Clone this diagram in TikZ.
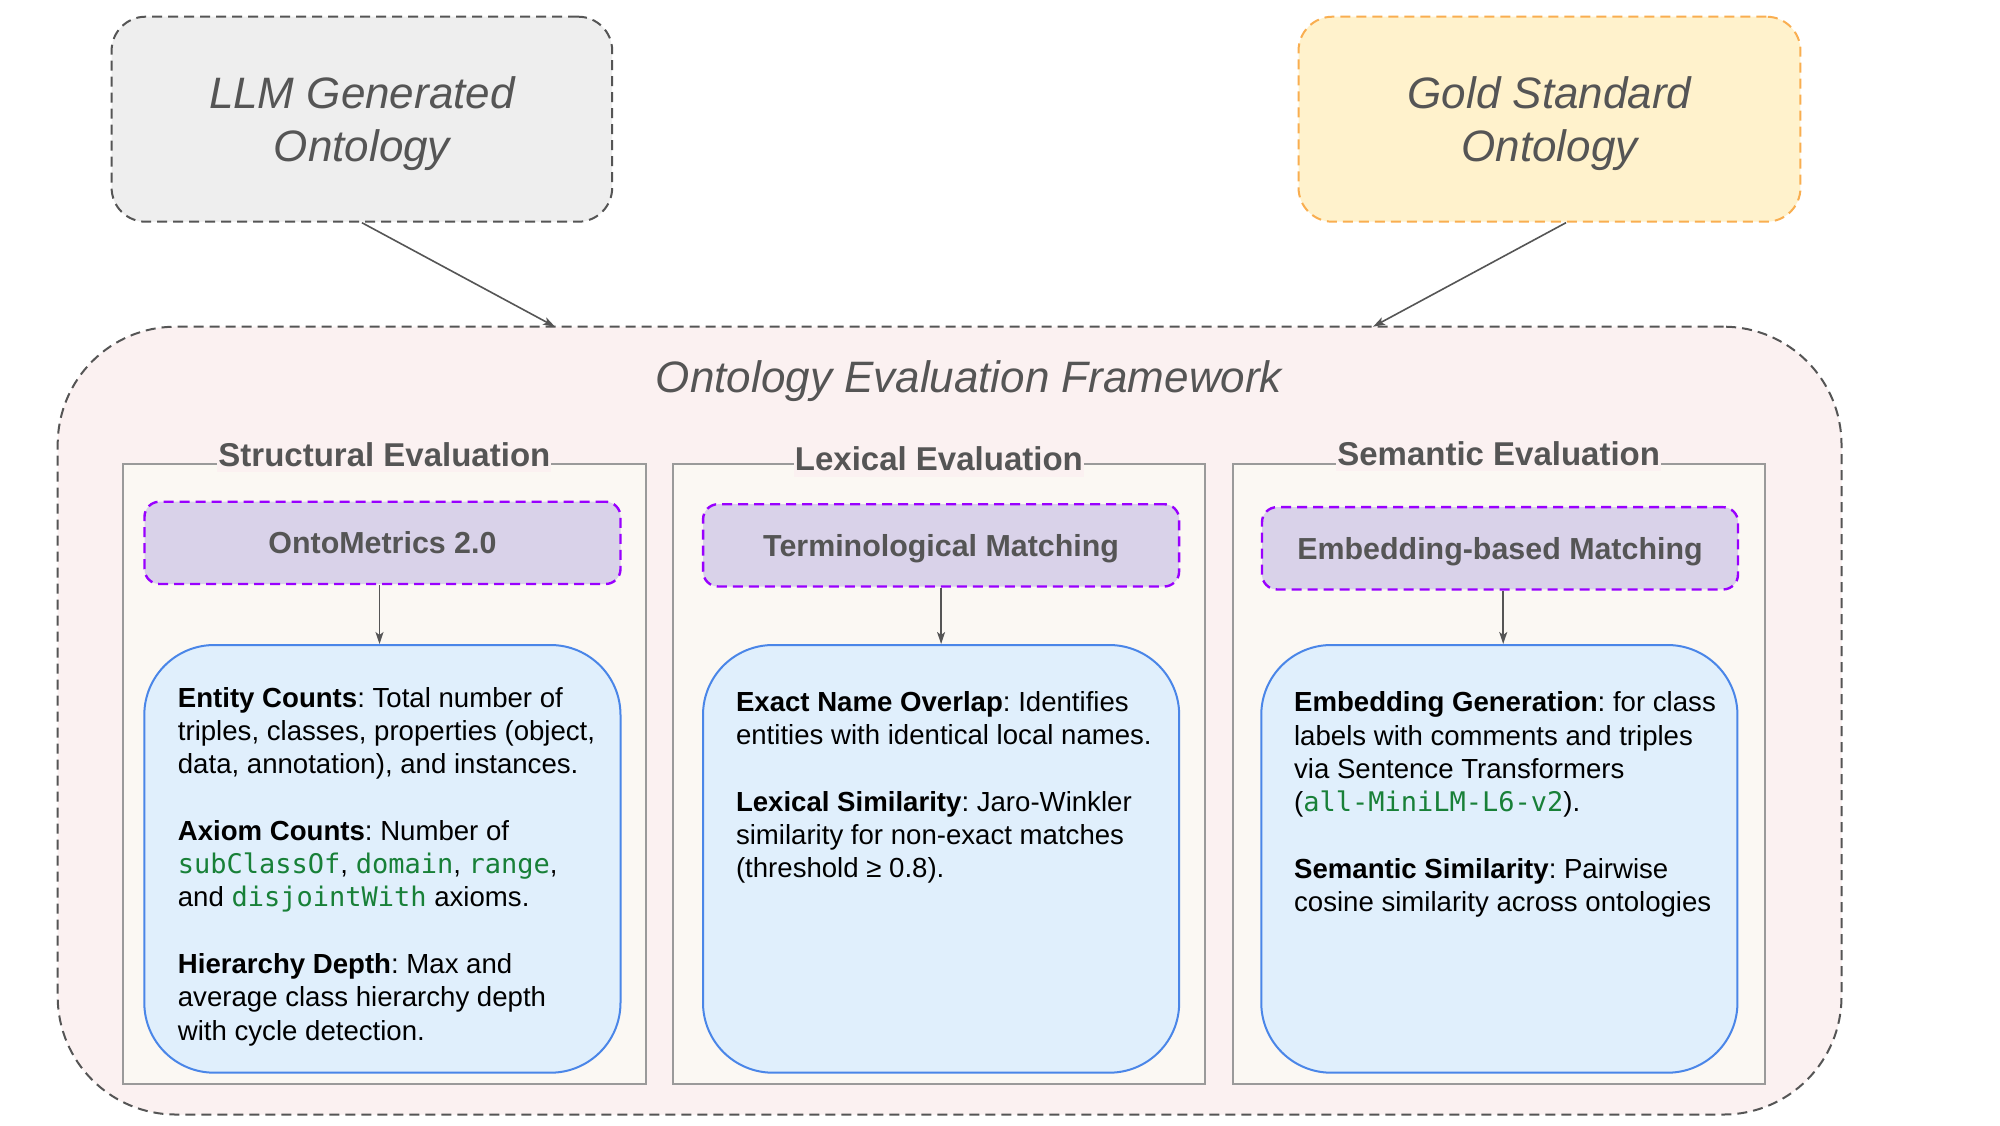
\documentclass[tikz,border=0pt]{standalone}
\usepackage{fontspec}
\setmainfont{Liberation Sans}
\newfontfamily\codefont{DejaVu Sans Mono}
\usetikzlibrary{arrows.meta}
\definecolor{txtgray}{HTML}{555555}
\definecolor{framefill}{HTML}{FBF1F1}
\definecolor{panelfill}{HTML}{FBF8F3}
\definecolor{panelgray}{HTML}{9A9A9A}
\definecolor{purplefill}{HTML}{D9D2E9}
\definecolor{purpleline}{HTML}{9900FF}
\definecolor{bluefill}{HTML}{E0EFFC}
\definecolor{blueline}{HTML}{4A86E8}
\definecolor{llmfill}{HTML}{EEEEEE}
\definecolor{goldfill}{HTML}{FFF2CC}
\definecolor{goldline}{HTML}{F9AE50}
\definecolor{codegreen}{HTML}{188038}
\newcommand\cd[1]{{\codefont\fontsize{27}{33.33}\selectfont\color{codegreen}#1}}
\newcommand\twoln[2]{\vtop{\hbox to 0pt{\hss#1\hss}\hbox to 0pt{\hss#2\hss}}}
\tikzset{
  topbox/.style={dash pattern=on 10pt off 6pt, line width=2pt, rounded corners=34pt,
    inner sep=0pt, text=txtgray, font=\fontsize{44}{53}\selectfont\itshape,
    text height=31.5pt, text depth=52pt, minimum height=205pt},
  framebox/.style={draw=txtgray, fill=framefill, dash pattern=on 10pt off 6pt, line width=2pt,
    rounded corners=118pt, inner sep=0pt, minimum width=1783.8pt, minimum height=787.8pt},
  framelabel/.style={anchor=base, inner sep=0pt, text=txtgray, font=\fontsize{44}{53}\selectfont\itshape},
  panelbox/.style={draw=panelgray, fill=panelfill, line width=2pt, inner sep=0pt, minimum height=619.7pt},
  paneltitle/.style={anchor=base, fill=framefill, inner xsep=1pt, inner ysep=6pt, text=txtgray,
    font=\fontsize{33}{40}\selectfont\bfseries},
  headbox/.style={draw=purpleline, fill=purplefill, dash pattern=on 10pt off 6pt, line width=2.4pt,
    rounded corners=15pt, inner sep=0pt, minimum width=476pt, minimum height=82.3pt,
    text=txtgray, font=\fontsize{30.4}{36}\selectfont\bfseries, text height=21.7pt, text depth=0pt},
  bodybox/.style={draw=blueline, fill=bluefill, line width=2pt, rounded corners=70pt,
    inner sep=0pt, minimum width=476.2pt, minimum height=427.7pt},
  bodytext/.style={anchor=base west, inner sep=0pt, text=black,
    font=\fontsize{27.6}{33.33}\selectfont\frenchspacing},
  arr/.style={draw=txtgray, line width=1.6pt, -{Stealth[length=12pt,width=8pt,inset=3pt]}},
}
\begin{document}
\begin{tikzpicture}[x=1pt,y=-1pt]
\useasboundingbox (0,0) rectangle (2000,1125);
\fill[white] (0,0) rectangle (2000,1125);

% top sources
\node[topbox, draw=txtgray, fill=llmfill, minimum width=500.6pt] (llm) at (361.9,119.2)
  {\twoln{LLM Generated}{Ontology}};
\node[topbox, draw=goldline, fill=goldfill, minimum width=501.9pt] (gold) at (1549.5,119.2)
  {\twoln{Gold Standard}{Ontology}};

% framework
\node[framebox] (fw) at (949.6,720.6) {};
\node[framelabel] (fwtitle) at (969,392) {Ontology Evaluation Framework};
\coordinate (llmin) at (555,326.7);
\coordinate (goldin) at (1373,326.7);
\draw[arr] (llm.south) -- (llmin);
\draw[arr] ([xshift=16.5pt]gold.south) -- (goldin);

% panels
\node[panelbox, minimum width=522.2pt] (sp) at (384.4,774.15) {};
\node[panelbox, minimum width=532.2pt] (lp) at (938.9,774.15) {};
\node[panelbox, minimum width=532pt] (mp) at (1498.7,774.15) {};
\node[paneltitle] (st) at (384.4,466) {Structural Evaluation};
\node[paneltitle] (lt) at (938.9,470.5) {Lexical Evaluation};
\node[paneltitle] (mt) at (1498.7,465) {Semantic Evaluation};

% headers
\node[headbox] (sh) at (382.5,542.85) {OntoMetrics 2.0};
\node[headbox] (lh) at (941.1,545.35) {Terminological Matching};
\node[headbox] (mh) at (1500,548.3) {Embedding-based Matching};

% body boxes
\node[bodybox] (sb) at (382.4,858.85) {};
\node[bodybox] (lb) at (941.1,858.85) {};
\node[bodybox] (mb) at (1499.35,858.85) {};

\coordinate (sa) at ([xshift=-3pt]sh.south);
\coordinate (la) at (lh.south);
\coordinate (ma) at ([xshift=3.2pt]mh.south);
\draw[arr] (sa) -- (sa |- sb.north);
\draw[arr] (la) -- (la |- lb.north);
\draw[arr] (ma) -- (ma |- mb.north);

% body texts
\node[bodytext] (stx) at (177.7,707) {\vtop{%
  \hbox{\textbf{Entity Counts}: Total number of}
  \hbox{triples, classes, properties (object,}
  \hbox{data, annotation), and instances.}
  \hbox{}
  \hbox{\textbf{Axiom Counts}: Number of}
  \hbox{\cd{subClassOf}, \cd{domain}, \cd{range},}
  \hbox{and \cd{disjointWith} axioms.}
  \hbox{}
  \hbox{\textbf{Hierarchy Depth}: Max and}
  \hbox{average class hierarchy depth}
  \hbox{with cycle detection.}}};
\node[bodytext] (ltx) at (735.8,711) {\vtop{%
  \hbox{\textbf{Exact Name Overlap}: Identifies}
  \hbox{entities with identical local names.}
  \hbox{}
  \hbox{\textbf{Lexical Similarity}: Jaro-Winkler}
  \hbox{similarity for non-exact matches}
  \hbox{(threshold ≥ 0.8).}}};
\node[bodytext] (mtx) at (1293.9,711.7) {\vtop{%
  \hbox{\textbf{Embedding Generation}: for class}
  \hbox{labels with comments and triples}
  \hbox{via Sentence Transformers}
  \hbox{(\cd{all-MiniLM-L6-v2}).}
  \hbox{}
  \hbox{\textbf{Semantic Similarity}: Pairwise}
  \hbox{cosine similarity across ontologies}}};
\end{tikzpicture}
\end{document}
